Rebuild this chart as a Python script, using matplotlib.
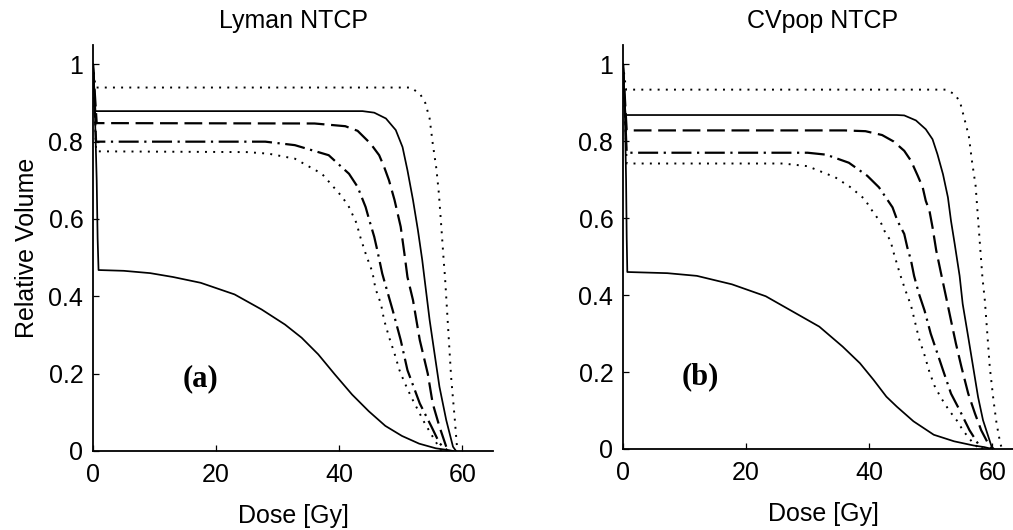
import matplotlib
matplotlib.use("Agg")
import matplotlib.pyplot as plt

# ---- data (dose in Gy, relative volume) ----
# panel (a): Lyman NTCP
a_dot_top_x = [0, 0.4, 51.7, 53.2, 54.0, 54.7, 55.2, 55.8, 56.2, 56.6, 57.0, 57.2, 57.7, 58.2, 58.8, 59.2]
a_dot_top_y = [1.0, 0.94, 0.94, 0.922, 0.90, 0.86, 0.796, 0.73, 0.667, 0.58, 0.49, 0.45, 0.32, 0.19, 0.08, 0.0]

a_solid_x = [0, 0.4, 43.8, 45.7, 47.6, 49.2, 50.3, 51.1, 52.0, 52.8, 53.5, 53.9, 54.7, 55.5, 56.3, 57.4, 58.5, 59.0]
a_solid_y = [1.0, 0.879, 0.879, 0.875, 0.86, 0.83, 0.786, 0.726, 0.649, 0.571, 0.494, 0.442, 0.339, 0.252, 0.166, 0.08, 0.011, 0.0]

a_dash_x = [0, 0.6, 36.0, 41.0, 43.0, 45.1, 46.5, 47.3, 48.1, 49.0, 50.0, 50.6, 51.1, 52.0, 53.1, 54.4, 55.2, 56.3, 57.4, 58.0]
a_dash_y = [1.0, 0.848, 0.847, 0.840, 0.828, 0.795, 0.765, 0.735, 0.70, 0.649, 0.58, 0.511, 0.45, 0.39, 0.287, 0.20, 0.123, 0.063, 0.011, 0.0]

a_dashdot_x = [0, 0.5, 28.0, 32.8, 38.3, 41.6, 43.0, 44.3, 44.9, 45.7, 46.2, 47.0, 47.3, 48.7, 50.0, 51.1, 53.1, 55.0, 56.3, 57.7]
a_dashdot_y = [1.0, 0.80, 0.80, 0.791, 0.765, 0.717, 0.683, 0.631, 0.597, 0.554, 0.519, 0.459, 0.442, 0.364, 0.287, 0.209, 0.123, 0.063, 0.02, 0.0]

a_dot_low_x = [0, 0.5, 25.0, 28.5, 32.8, 37.2, 40.5, 41.6, 42.8, 43.5, 44.4, 45.4, 45.9, 46.8, 47.3, 48.1, 49.0, 49.8,
               50.6, 51.7, 52.8, 53.9, 55.2, 56.6]
a_dot_low_y = [1.0, 0.775, 0.773, 0.769, 0.756, 0.717, 0.657, 0.631, 0.59, 0.55, 0.506, 0.463, 0.42, 0.38, 0.339, 0.295,
               0.252, 0.209, 0.178, 0.14, 0.106, 0.072, 0.037, 0.0]

a_low_x = [0, 0.3, 0.6, 0.75, 0.9, 5.0, 9.3, 13.0, 17.5, 23.0, 27.4, 31.2, 33.9, 36.6, 39.3, 42.1, 44.8, 47.5, 50.2,
           53.0, 55.7, 57.9, 58.5]
a_low_y = [1.0, 0.88, 0.70, 0.55, 0.468, 0.466, 0.46, 0.45, 0.435, 0.405, 0.366, 0.327, 0.293, 0.25, 0.198, 0.146,
           0.103, 0.065, 0.039, 0.019, 0.007, 0.002, 0.0]

# panel (b): CVpop NTCP
b_dot_top_x = [0, 0.5, 52.5, 54.0, 54.8, 55.5, 56.2, 56.7, 57.3, 57.6, 57.8, 58.1, 58.4, 58.8, 59.2, 59.6, 60.2, 60.7,
               61.3, 61.6]
b_dot_top_y = [1.0, 0.934, 0.934, 0.921, 0.90, 0.857, 0.813, 0.749, 0.684, 0.619, 0.576, 0.511, 0.447, 0.386, 0.30,
               0.213, 0.127, 0.067, 0.015, 0.0]

b_solid_x = [0, 0.4, 44.5, 45.7, 47.6, 49.2, 50.3, 51.1, 52.0, 52.8, 53.3, 53.9, 54.7, 55.2, 56.1, 56.9, 57.7, 58.5,
             59.9, 60.3]
b_solid_y = [1.0, 0.868, 0.868, 0.867, 0.854, 0.831, 0.805, 0.766, 0.714, 0.654, 0.593, 0.533, 0.45, 0.377, 0.291,
             0.213, 0.135, 0.075, 0.006, 0.0]

b_dash_x = [0, 0.6, 36.0, 39.4, 42.1, 44.0, 45.7, 46.8, 47.9, 48.7, 49.2, 49.8, 50.3, 50.9, 51.7, 52.5, 53.3, 54.1,
            55.0, 56.1, 57.2, 58.2, 59.6, 60.0]
b_dash_y = [1.0, 0.828, 0.828, 0.826, 0.816, 0.799, 0.775, 0.749, 0.71, 0.68, 0.645, 0.619, 0.576, 0.516, 0.455,
            0.395, 0.334, 0.274, 0.213, 0.144, 0.092, 0.049, 0.006, 0.0]

b_dashdot_x = [0, 0.6, 30.0, 33.0, 36.7, 39.7, 41.6, 42.7, 43.8, 44.6, 45.7, 46.2, 46.8, 47.3, 48.1, 49.0, 50.0, 51.1,
               52.0, 53.3, 54.7, 56.3, 58.0, 58.5]
b_dashdot_y = [1.0, 0.77, 0.77, 0.765, 0.744, 0.71, 0.68, 0.654, 0.628, 0.593, 0.559, 0.524, 0.49, 0.45, 0.403, 0.36,
               0.30, 0.248, 0.205, 0.144, 0.101, 0.049, 0.006, 0.0]

b_dot_low_x = [0, 0.6, 26.0, 30.0, 34.5, 37.0, 39.3, 40.1, 41.1, 42.0, 42.6, 43.5, 43.8, 44.2, 44.6, 45.0, 45.9, 46.8,
               47.5, 48.1, 49.0, 49.8, 50.6, 51.6, 53.0, 54.4, 55.2, 56.9, 58.0]
b_dot_low_y = [1.0, 0.742, 0.742, 0.735, 0.706, 0.68, 0.649, 0.628, 0.606, 0.585, 0.563, 0.541, 0.52, 0.498, 0.477,
               0.455, 0.412, 0.373, 0.327, 0.287, 0.244, 0.2, 0.165, 0.135, 0.1, 0.071, 0.049, 0.015, 0.0]

b_low_x = [0, 0.3, 0.5, 0.6, 0.7, 7.2, 12.0, 17.7, 23.2, 28.6, 31.9, 35.7, 38.5, 40.7, 42.8, 44.5, 47.2, 50.5, 53.8,
           57.0, 58.7, 60.0]
b_low_y = [1.0, 0.88, 0.70, 0.55, 0.46, 0.457, 0.45, 0.428, 0.397, 0.348, 0.318, 0.266, 0.223, 0.18, 0.136, 0.11,
           0.072, 0.037, 0.02, 0.009, 0.005, 0.0]

x_ticks = [0, 20, 40, 60]
y_ticks = [0, 0.2, 0.4, 0.6, 0.8, 1]
y_ticklabels = ["0", "0.2", "0.4", "0.6", "0.8", "1"]

plt.rcParams['font.family'] = ['Liberation Sans', 'DejaVu Sans']

DOT = (0, (1, 3.2))
DASH = (0, (8, 3))
DASHDOT = (0, (9, 2.5, 1, 2.5))
FS = 18


def draw_panel(ax, curves, title, tag, tag_x, tag_y):
    for xs, ys, ls, lw in curves:
        ax.plot(xs, ys, color="black", linestyle=ls, linewidth=lw)
    ax.set_xlim(0, 65)
    ax.set_ylim(0, 1.05)
    ax.set_xticks(x_ticks)
    ax.set_yticks(y_ticks)
    ax.set_yticklabels(y_ticklabels)
    ax.spines['top'].set_visible(False)
    ax.spines['right'].set_visible(False)
    ax.spines['left'].set_linewidth(1.3)
    ax.spines['bottom'].set_linewidth(1.3)
    ax.tick_params(direction="in", length=4, width=0.9, labelsize=FS)
    ax.tick_params(axis="y", pad=7)
    ax.tick_params(axis="x", pad=9)
    ax.set_title(title, fontsize=FS, pad=12)
    ax.set_xlabel("Dose [Gy]", fontsize=FS, labelpad=12)
    ax.text(tag_x, tag_y, tag, fontsize=22, fontweight="bold",
            family=["Liberation Serif", "DejaVu Serif"], ha="center", va="center")


fig = plt.figure(figsize=(10.13, 5.30), dpi=100)
ax1 = fig.add_axes([93 / 1013, 79 / 530, 400 / 1013, 406 / 530])
ax2 = fig.add_axes([623 / 1013, 81 / 530, 400 / 1013, 404 / 530])

draw_panel(ax1, [
    (a_dot_top_x, a_dot_top_y, DOT, 1.4),
    (a_solid_x, a_solid_y, "-", 1.25),
    (a_dash_x, a_dash_y, DASH, 1.6),
    (a_dashdot_x, a_dashdot_y, DASHDOT, 1.6),
    (a_dot_low_x, a_dot_low_y, DOT, 1.4),
    (a_low_x, a_low_y, "-", 1.25),
], "Lyman NTCP", "(a)", 17.5, 0.187)
ax1.set_ylabel("Relative Volume", fontsize=FS, labelpad=7)

draw_panel(ax2, [
    (b_dot_top_x, b_dot_top_y, DOT, 1.4),
    (b_solid_x, b_solid_y, "-", 1.25),
    (b_dash_x, b_dash_y, DASH, 1.6),
    (b_dashdot_x, b_dashdot_y, DASHDOT, 1.6),
    (b_dot_low_x, b_dot_low_y, DOT, 1.4),
    (b_low_x, b_low_y, "-", 1.25),
], "CVpop NTCP", "(b)", 12.5, 0.187)

fig.savefig("out.png", dpi=100)
